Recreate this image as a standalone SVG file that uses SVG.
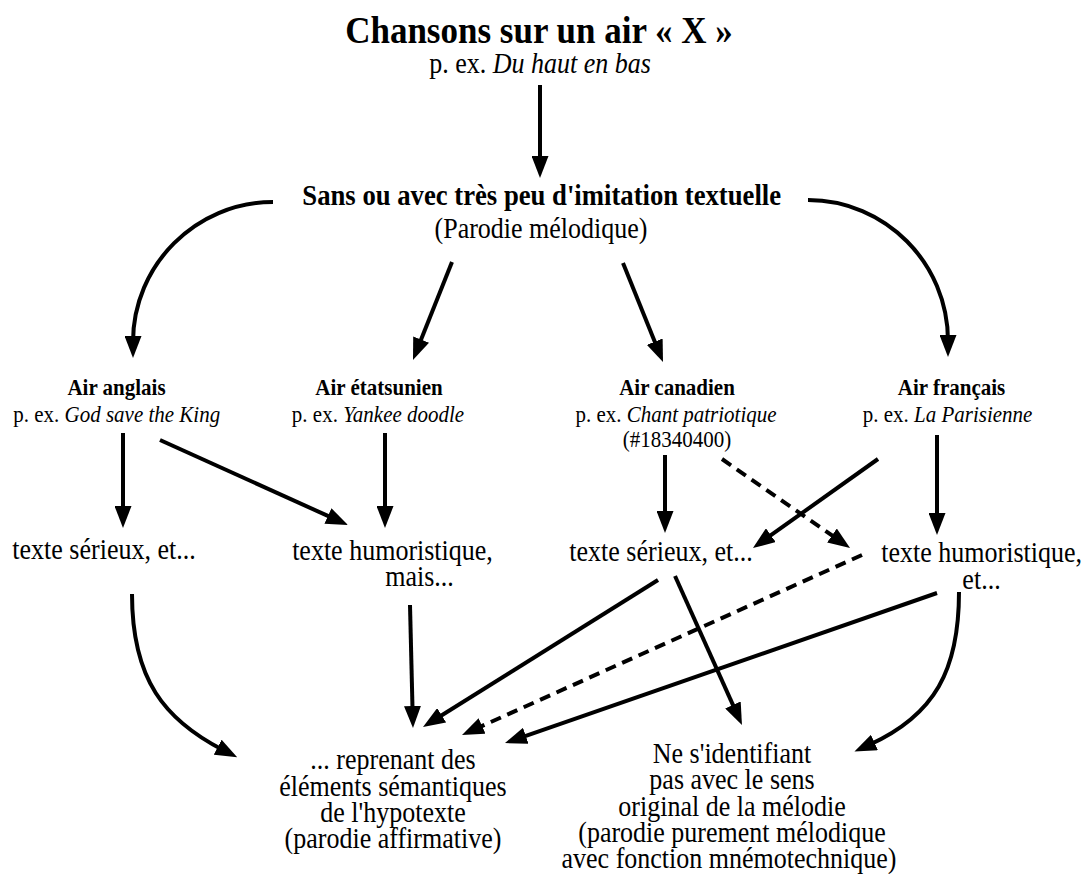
<svg xmlns="http://www.w3.org/2000/svg" width="1088" height="874" viewBox="0 0 1088 874">
<style>
text{font-family:"Liberation Serif","Times New Roman",serif;fill:#000;text-anchor:middle}
.t{font-size:35px;font-weight:bold}
.b{font-size:26.7px;font-weight:bold}
.r{font-size:26px}
.ab{font-size:21px;font-weight:bold}
.ar{font-size:21px}
.i{font-style:italic}
.c{fill:none;stroke:#000;stroke-width:4}
.d{stroke-dasharray:11,7}
</style>
<defs>
<marker id="ah" viewBox="0 0 22 17" refX="6" refY="8.5" markerWidth="22" markerHeight="17" markerUnits="userSpaceOnUse" orient="auto"><path d="M0,0 L22,8.5 L0,17 z" fill="#000"/></marker>
</defs>
<rect width="1088" height="874" fill="#fff"/>
<g id="connectors">
<path class="c" marker-end="url(#ah)" d="M540,85 L540,162"/>
<path class="c" marker-end="url(#ah)" d="M273,202 C196,202 133,265 133,342"/>
<path class="c" marker-end="url(#ah)" d="M452,262 L418.9,345.1"/>
<path class="c" marker-end="url(#ah)" d="M623,263 L657,347.2"/>
<path class="c" marker-end="url(#ah)" d="M808,200 C885,200 948,263 948,341"/>
<path class="c" marker-end="url(#ah)" d="M123,433 L123,512"/>
<path class="c" marker-end="url(#ah)" d="M160,440 L333.4,518.4"/>
<path class="c" marker-end="url(#ah)" d="M385,433 L385,512"/>
<path class="c" marker-end="url(#ah)" d="M665,455 L665,517"/>
<path class="c d" marker-end="url(#ah)" d="M722,459 L836.9,538.9"/>
<path class="c" marker-end="url(#ah)" d="M878,459 L766,538.7"/>
<path class="c" marker-end="url(#ah)" d="M937,435 L937,519"/>
<path class="c" marker-end="url(#ah)" d="M132,594 C132,680 165,720 223,750"/>
<path class="c" marker-end="url(#ah)" d="M410,605 L412.6,712"/>
<path class="c" marker-end="url(#ah)" d="M658,580 L436.6,718.5"/>
<path class="c" marker-end="url(#ah)" d="M675,576 L735.4,710.4"/>
<path class="c d" marker-end="url(#ah)" d="M862,555 L476.6,728.4"/>
<path class="c" marker-end="url(#ah)" d="M937,593 L520.1,737.8"/>
<path class="c" marker-end="url(#ah)" d="M959,592 C959,670 935,715 869,745"/>
</g>
<g id="title">
<text class="t" transform="translate(539,43) scale(1,1.1)">Chansons sur un air « X »</text>
<text class="r" transform="translate(540,73) scale(1,1.1)">p. ex. <tspan class="i">Du haut en bas</tspan></text>
</g>
<g id="sans">
<text class="b" transform="translate(541.7,205) scale(1,1.1)">Sans ou avec très peu d'imitation textuelle</text>
<text class="r" transform="translate(541,238) scale(1,1.1)">(Parodie mélodique)</text>
</g>
<g id="air-anglais">
<text class="ab" transform="translate(116.5,395) scale(1,1.1)">Air anglais</text>
<text class="ar" transform="translate(116.7,421.5) scale(1,1.1)">p. ex. <tspan class="i">God save the King</tspan></text>
</g>
<g id="air-etatsunien">
<text class="ab" transform="translate(379,395) scale(1,1.1)">Air étatsunien</text>
<text class="ar" transform="translate(378,421.5) scale(1,1.1)">p. ex. <tspan class="i">Yankee doodle</tspan></text>
</g>
<g id="air-canadien">
<text class="ab" transform="translate(677,395) scale(1,1.1)">Air canadien</text>
<text class="ar" transform="translate(676,421.5) scale(1,1.1)">p. ex. <tspan class="i">Chant patriotique</tspan></text>
<text class="ar" transform="translate(677,447) scale(1,1.1)">(#18340400)</text>
</g>
<g id="air-francais">
<text class="ab" transform="translate(951.5,395) scale(1,1.1)">Air français</text>
<text class="ar" transform="translate(947.5,421.5) scale(1,1.1)">p. ex. <tspan class="i">La Parisienne</tspan></text>
</g>
<g id="serieux-1">
<text class="r" transform="translate(104,559) scale(1,1.1)">texte sérieux, et...</text>
</g>
<g id="humor-1">
<text class="r" transform="translate(392.5,560) scale(1,1.1)">texte humoristique,</text>
<text class="r" transform="translate(419.5,586) scale(1,1.1)">mais...</text>
</g>
<g id="serieux-2">
<text class="r" transform="translate(661,561) scale(1,1.1)">texte sérieux, et...</text>
</g>
<g id="humor-2">
<text class="r" transform="translate(981.7,562) scale(1,1.1)">texte humoristique,</text>
<text class="r" transform="translate(981.5,589) scale(1,1.1)">et...</text>
</g>
<g id="affirmative">
<text class="r" transform="translate(393,769) scale(1,1.1)">... reprenant des</text>
<text class="r" transform="translate(393,795.5) scale(1,1.1)">éléments sémantiques</text>
<text class="r" transform="translate(393,822) scale(1,1.1)">de l'hypotexte</text>
<text class="r" transform="translate(393,847.5) scale(1,1.1)">(parodie affirmative)</text>
</g>
<g id="melodique">
<text class="r" transform="translate(732,763) scale(1,1.1)">Ne s'identifiant</text>
<text class="r" transform="translate(732,789) scale(1,1.1)">pas avec le sens</text>
<text class="r" transform="translate(732,815.5) scale(1,1.1)">original de la mélodie</text>
<text class="r" transform="translate(732,842) scale(1,1.1)">(parodie purement mélodique</text>
<text class="r" transform="translate(729,867.5) scale(1,1.1)">avec fonction mnémotechnique)</text>
</g>
</svg>
